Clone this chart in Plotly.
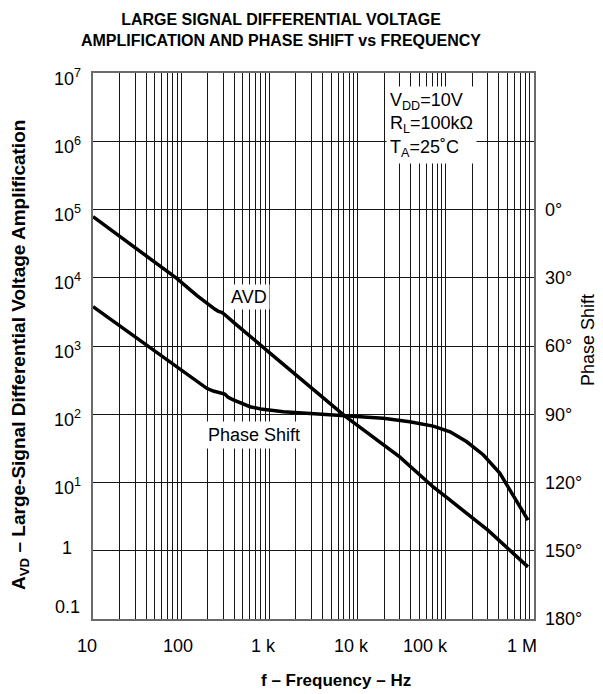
import math
import plotly.graph_objects as go

# ---------------- data ----------------
avd_freq = [10, 20, 50, 89, 150, 212, 242, 264, 288, 306, 328, 390,
            1000, 3000, 7200, 30000, 72000, 112000, 300000, 855000]
avd_gain = [78500, 40500, 16900, 9800, 5530, 3850, 3450, 3220, 3120, 2940, 2690, 2240,
            802, 243, 94, 23.7, 8.6, 5.5, 2.0, 0.58]

phase_freq = [10, 40, 89, 150, 195, 231, 264, 288, 312, 340, 390, 603, 800, 1440,
              3440, 7200, 19500, 39000, 72000, 112000, 173000, 267000, 411000,
              582000, 855000]
phase_deg = [42.7, 59.6, 69.1, 75.4, 78.6, 79.8, 80.4, 80.5, 81.1, 82.5, 83.7, 86.7,
             87.7, 88.9, 90.0, 90.7, 91.8, 93.3, 95.2, 97.7, 102.1, 107.9, 116.0,
             125.5, 136.5]

x_tick_vals = [10, 100, 1000, 10000, 100000, 1000000]
x_tick_text = ["10", "100", "1 k", "10 k", "100 k", "1 M"]

y_tick_vals = [0.1, 1, 10, 100, 1000, 10000, 100000, 1000000, 10000000]
y_tick_text = ["0.1", "1", "10<sup>1</sup>", "10<sup>2</sup>", "10<sup>3</sup>",
               "10<sup>4</sup>", "10<sup>5</sup>", "10<sup>6</sup>", "10<sup>7</sup>"]

phase_tick_vals = [0, 30, 60, 90, 120, 150, 180]
phase_tick_text = ["0°", "30°", "60°", "90°", "120°", "150°", "180°"]

title_text = ("LARGE SIGNAL DIFFERENTIAL VOLTAGE<br>"
              "AMPLIFICATION AND PHASE SHIFT vs FREQUENCY")
cond_text = "V<sub>DD</sub>=10V<br>R<sub>L</sub>=100kΩ<br>T<sub>A</sub>=25˚C"

# ---------------- styling ----------------
FONT = "Liberation Sans, Arial, Helvetica, sans-serif"
GRID = "#161616"
BORDER = "#6a6a6a"
OFF = 8                      # page body margin of the html page
W, H = 603 - OFF, 694 - OFF
x_label_shift = [-6, -3, -6, -6, -20, -12]
y_label_shift = [12, 3, -4, -4, -4, -4, -4, -4, -4]

minor_x = [m * 10 ** e for e in range(1, 6) for m in range(2, 10)]

fig = go.Figure()
fig.add_trace(go.Scatter(x=avd_freq, y=avd_gain, mode="lines",
                         line=dict(color="black", width=3.5), yaxis="y",
                         showlegend=False, hoverinfo="skip"))
fig.add_trace(go.Scatter(x=phase_freq, y=phase_deg, mode="lines",
                         line=dict(color="black", width=3.5), yaxis="y2",
                         showlegend=False, hoverinfo="skip"))

ann = []
for v, t, s in zip(x_tick_vals, x_tick_text, x_label_shift):
    ann.append(dict(x=math.log10(v), xref="x", y=0, yref="paper", yanchor="middle",
                    xanchor="center", yshift=-27, xshift=s, text=t, showarrow=False,
                    font=dict(size=18, color="black", family=FONT)))
for v, t, s in zip(y_tick_vals, y_tick_text, y_label_shift):
    ann.append(dict(x=0, xref="paper", xanchor="center", xshift=-26,
                    y=math.log10(v), yref="y", yanchor="middle", yshift=s,
                    text=t, showarrow=False,
                    font=dict(size=18, color="black", family=FONT)))

ann += [
    dict(x=0, xref="paper", xshift=-73, y=1 - (355 - 73) / 546, yref="paper",
         text="<b>A<sub>VD</sub> – Large-Signal Differential Voltage Amplification</b>",
         textangle=-90, showarrow=False, xanchor="center", yanchor="middle",
         font=dict(size=19, color="black", family=FONT)),
    dict(x=1, xref="paper", xshift=54, y=1 - (340 - 73) / 546, yref="paper",
         text="Phase Shift", textangle=-90, showarrow=False,
         xanchor="center", yanchor="middle",
         font=dict(size=18, color="black", family=FONT)),
    dict(x=(336 - 93) / 441, xref="paper", y=0, yref="paper", yshift=-61,
         text="<b>f – Frequency – Hz</b>", showarrow=False,
         xanchor="center", yanchor="middle",
         font=dict(size=17, color="black", family=FONT)),
    dict(x=(386 - 93) / 441, xref="paper", y=1 - (86 - 73) / 546, yref="paper",
         xanchor="left", yanchor="top", align="left", text=cond_text,
         showarrow=False, bgcolor="white", borderpad=3,
         font=dict(size=18, color="black", family=FONT)),
    dict(x=math.log10(588), xref="x", y=3.718, yref="y", text="AVD",
         showarrow=False, bgcolor="white", borderpad=2,
         font=dict(size=18, color="black", family=FONT)),
    dict(x=math.log10(661), xref="x", y=1.696, yref="y", text="Phase Shift",
         showarrow=False, bgcolor="white", borderpad=3,
         font=dict(size=18, color="black", family=FONT)),
]

fig.update_layout(
    width=W, height=H,
    margin=dict(l=93 - OFF, r=W - (534 - OFF), t=73 - OFF, b=H - (619 - OFF)),
    paper_bgcolor="white", plot_bgcolor="white",
    font=dict(family=FONT, color="black"),
    title=dict(text="<b>" + title_text + "</b>", x=(281 - OFF) / W, xanchor="center",
               y=1 - 17 / H, yanchor="top", yref="container",
               font=dict(size=16, color="black", family=FONT)),
    xaxis=dict(type="log", range=[1, 6], tickvals=x_tick_vals, showticklabels=False,
               ticks="", showgrid=True, gridcolor=GRID, gridwidth=1,
               minor=dict(tickvals=minor_x, showgrid=True, gridcolor=GRID,
                          gridwidth=1, ticks=""),
               showline=True, linecolor=BORDER, linewidth=1.5, mirror=True,
               zeroline=False),
    yaxis=dict(type="log", range=[-1, 7], tickvals=y_tick_vals, showticklabels=False,
               ticks="", showgrid=True, gridcolor=GRID, gridwidth=1,
               showline=True, linecolor=BORDER, linewidth=1.5, mirror=True,
               zeroline=False),
    yaxis2=dict(overlaying="y", side="right", range=[180, -60],
                tickvals=phase_tick_vals, ticktext=phase_tick_text, ticks="",
                ticklabelstandoff=10, showgrid=False, zeroline=False, showline=False,
                tickfont=dict(size=18, color="black", family=FONT)),
    annotations=ann,
)

fig.write_html("out.html")
